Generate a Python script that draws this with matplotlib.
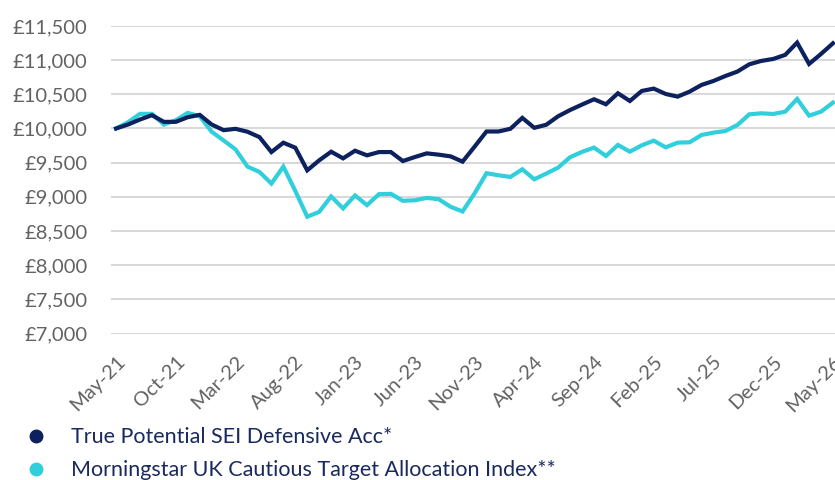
import numpy as np
import matplotlib as mpl
mpl.use('Agg')
import matplotlib.pyplot as plt
from matplotlib.lines import Line2D
from matplotlib.ticker import FuncFormatter, MultipleLocator

months = ['May-21', 'Jun-21', 'Jul-21', 'Aug-21', 'Sep-21', 'Oct-21', 'Nov-21', 'Dec-21',
          'Jan-22', 'Feb-22', 'Mar-22', 'Apr-22', 'May-22', 'Jun-22', 'Jul-22', 'Aug-22',
          'Sep-22', 'Oct-22', 'Nov-22', 'Dec-22', 'Jan-23', 'Feb-23', 'Mar-23', 'Apr-23',
          'May-23', 'Jun-23', 'Jul-23', 'Aug-23', 'Sep-23', 'Oct-23', 'Nov-23', 'Dec-23',
          'Jan-24', 'Feb-24', 'Mar-24', 'Apr-24', 'May-24', 'Jun-24', 'Jul-24', 'Aug-24',
          'Sep-24', 'Oct-24', 'Nov-24', 'Dec-24', 'Jan-25', 'Feb-25', 'Mar-25', 'Apr-25',
          'May-25', 'Jun-25', 'Jul-25', 'Aug-25', 'Sep-25', 'Oct-25', 'Nov-25', 'Dec-25',
          'Jan-26', 'Feb-26', 'Mar-26', 'Apr-26', 'May-26']

fund = [10000, 10058, 10131, 10194, 10097, 10097, 10165, 10199, 10058, 9975,
        9995, 9952, 9874, 9655, 9792, 9719, 9388, 9534, 9660, 9563,
        9675, 9607, 9655, 9655, 9524, 9582, 9636, 9617, 9592, 9515,
        9733, 9956, 9956, 9995, 10155, 10010, 10054, 10179, 10270, 10350,
        10427, 10354, 10515, 10402, 10549, 10583, 10505, 10466, 10539, 10637,
        10695, 10768, 10832, 10939, 10988, 11017, 11076, 11256, 10944, 11090,
        11246]

index = [10000, 10092, 10214, 10214, 10058, 10121, 10228, 10179, 9952, 9825,
         9694, 9442, 9364, 9195, 9442, 9087, 8709, 8781, 9006, 8831,
         9020, 8879, 9039, 9044, 8942, 8950, 8985, 8966, 8854, 8787,
         9049, 9345, 9316, 9291, 9403, 9257, 9340, 9428, 9580, 9658,
         9720, 9598, 9759, 9661, 9754, 9822, 9724, 9793, 9798, 9905,
         9939, 9963, 10051, 10207, 10222, 10212, 10246, 10432, 10188, 10246,
         10378]

labels = ['True Potential SEI Defensive Acc*',
          'Morningstar UK Cautious Target Allocation Index**']
colors = ['#0c215e', '#30cfdb']

plt.rcParams['font.family'] = ['Lato', 'DejaVu Sans']

fig = plt.figure(figsize=(8.35, 4.8), dpi=100)
ax = fig.add_axes([0.133, 0.305, 0.867, 0.641])

x = np.arange(len(months))
ax.plot(x, fund, color=colors[0], lw=3, solid_joinstyle='miter', zorder=3)
ax.plot(x, index, color=colors[1], lw=3, solid_joinstyle='miter', zorder=2)

ax.set_ylim(7000, 11500)
ax.yaxis.set_major_locator(MultipleLocator(500))
ax.yaxis.set_major_formatter(FuncFormatter(lambda v, p: '£{:,.0f}'.format(v)))
ax.set_xlim(-0.42, 60.17)
ax.set_xticks(x[::5])
ax.set_xticklabels(months[::5], rotation=45, ha='right', rotation_mode='anchor')

ax.grid(axis='y', color='#d9d9d9', lw=1.5)
ax.set_axisbelow(True)
for s in ax.spines.values():
    s.set_visible(False)
ax.tick_params(length=0, labelcolor='#626262', labelsize=14.5)
ax.tick_params(axis='y', pad=17)
ax.tick_params(axis='x', pad=14)

handles = [Line2D([], [], ls='none', marker='o', ms=9, color=c) for c in colors]
fig.legend(handles, labels, loc='upper left', bbox_to_anchor=(0.02, 0.128),
           frameon=False, prop={'size': 15.5},
           labelcolor='#1b2a5e', handlelength=1, handletextpad=1.1,
           labelspacing=0.6, borderaxespad=0)

plt.savefig('out.png', dpi=100)
